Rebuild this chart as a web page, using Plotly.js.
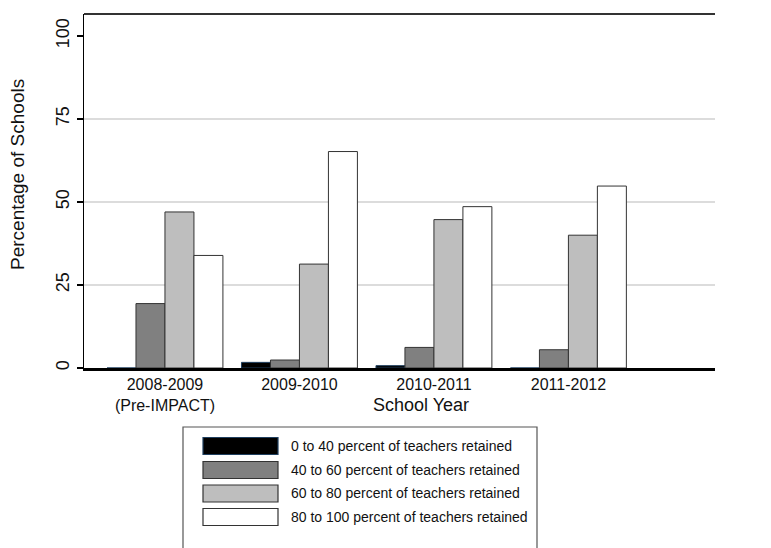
<!DOCTYPE html>
<html><head><meta charset="utf-8">
<script src="https://cdn.plot.ly/plotly-3.0.1.min.js"></script>
<style>html,body{margin:0;padding:0;overflow:hidden;background:#fff}</style>
</head><body><div id="chart"></div>
<script>
const years = ['2008-2009<br>(Pre-IMPACT)', '2009-2010', '2010-2011', '2011-2012'];
const seriesNames = [
  '0 to 40 percent of teachers retained',
  '40 to 60 percent of teachers retained',
  '60 to 80 percent of teachers retained',
  '80 to 100 percent of teachers retained'
];
const pct0to40   = [0, 1.7, 0.7, 0];
const pct40to60  = [19.4, 2.4, 6.2, 5.5];
const pct60to80  = [47.0, 31.3, 44.7, 40.0];
const pct80to100 = [33.9, 65.2, 48.6, 54.8];
const yTicks = [0, 25, 50, 75, 100];
const gridValues = [25, 50, 75];

const fills = ['#000000', '#808080', '#bebebe', '#ffffff'];
const edges = ['#1f3f5f', '#333333', '#333333', '#333333'];
const allSeries = [pct0to40, pct40to60, pct60to80, pct80to100];

const W = 771, H = 548, ML = 84, MR = 56, MT = 14, MB = 180;
const PW = W - ML - MR, PH = H - MT - MB;
const px = x => (x - ML) / PW;
const py = y => (H - MB - y) / PH;

const FONT = 'Liberation Sans, Arial, sans-serif';

const traces = allSeries.map((vals, i) => ({
  type: 'bar', x: years, y: vals, name: seriesNames[i],
  marker: {color: fills[i], line: {color: edges[i], width: 1}},
  showlegend: false, hoverinfo: 'skip'
}));

const shapes = [];
gridValues.forEach(v => shapes.push({type: 'line', xref: 'paper', yref: 'y', x0: 0, x1: 1, y0: v, y1: v,
  line: {color: '#dcdcdc', width: 2}, layer: 'below'}));
shapes.push({type: 'line', xref: 'paper', yref: 'paper', x0: 0, x1: 1, y0: 1, y1: 1, line: {color: '#333', width: 2}});

// legend (manual)
const annotations = [];
shapes.push({type: 'rect', xref: 'paper', yref: 'paper', x0: px(183), x1: px(537), y0: py(427), y1: py(570),
  line: {color: '#555', width: 1.2}, fillcolor: 'rgba(0,0,0,0)'});
const rowY = [446, 470, 493.5, 517];
seriesNames.forEach((n, i) => {
  shapes.push({type: 'rect', xref: 'paper', yref: 'paper', x0: px(203), x1: px(278), y0: py(rowY[i] - 8.5), y1: py(rowY[i] + 8.5),
    fillcolor: fills[i], line: {color: edges[i], width: 1.2}});
  annotations.push({xref: 'paper', yref: 'paper', x: px(289), y: py(rowY[i]), xanchor: 'left', yanchor: 'middle',
    text: n, showarrow: false, font: {family: FONT, size: 14, color: '#111'}});
});
annotations.push({xref: 'paper', yref: 'paper', x: px(421), y: py(405), xanchor: 'center', yanchor: 'middle',
  text: 'School Year', showarrow: false, font: {family: FONT, size: 18, color: '#111'}});
annotations.push({xref: 'paper', yref: 'paper', x: px(17), y: py(175), xanchor: 'center', yanchor: 'middle',
  text: 'Percentage of Schools', textangle: -90, showarrow: false, font: {family: FONT, size: 19, color: '#111'}});

const layout = {
  width: W, height: H,
  margin: {l: ML, r: MR, t: MT, b: MB},
  paper_bgcolor: '#fff', plot_bgcolor: '#fff',
  barmode: 'group', bargap: 0.138, bargroupgap: 0,
  showlegend: false,
  font: {family: FONT, color: '#111'},
  xaxis: {type: 'category', range: [-0.602, 4.09], showline: true, linecolor: '#000', linewidth: 2.5,
    ticks: '', showgrid: false, tickfont: {size: 16, color: '#111'}, fixedrange: true},
  yaxis: {range: [0, PH / 3.32], tickvals: yTicks, ticktext: yTicks.map(String), tickangle: -90,
    ticks: 'outside', ticklen: 6, tickwidth: 1.5, tickcolor: '#000', showline: true, linecolor: '#000', linewidth: 1.5,
    showgrid: false, zeroline: false, tickfont: {size: 18, color: '#111'}, fixedrange: true},
  shapes: shapes, annotations: annotations
};
Plotly.newPlot('chart', traces, layout, {displayModeBar: false, staticPlot: true});
</script></body></html>
